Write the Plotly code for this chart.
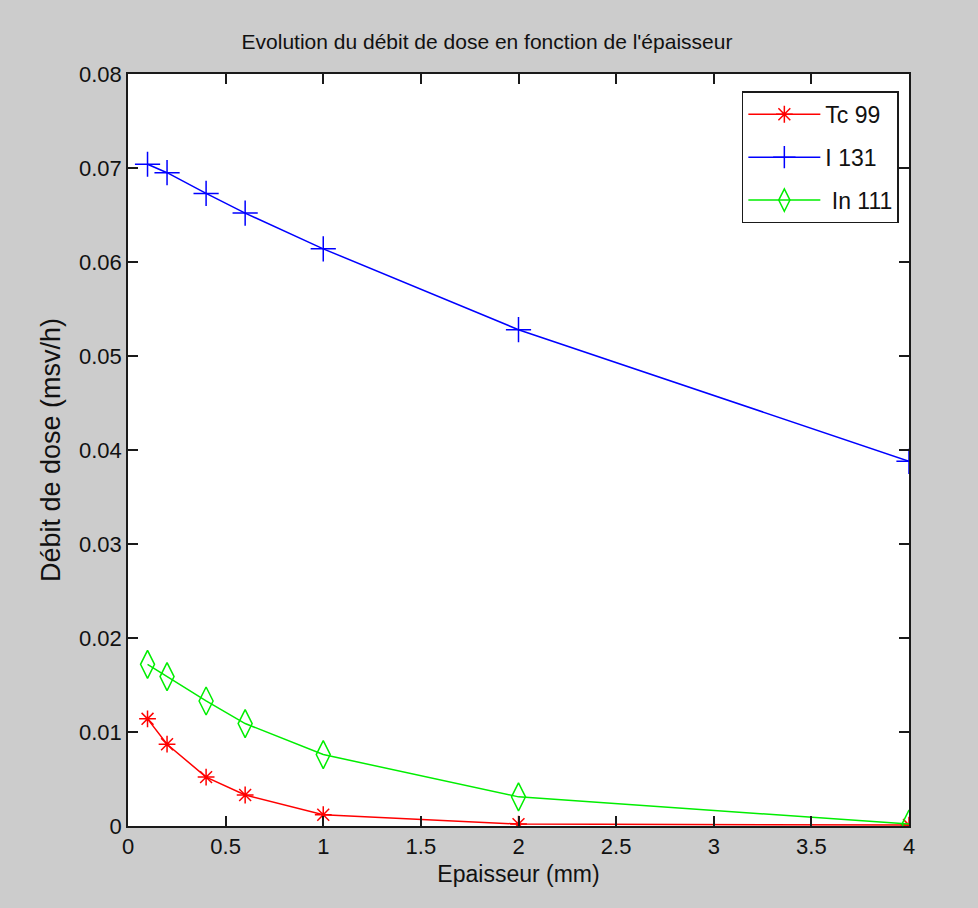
import plotly.graph_objects as go

# Data
epaisseur = [0.1, 0.2, 0.4, 0.6, 1, 2, 4]
tc99 = [0.0114, 0.0087, 0.0052, 0.0033, 0.0012, 0.0002, 0.0001]
i131 = [0.0704, 0.0695, 0.0673, 0.0652, 0.0614, 0.0528, 0.0388]
in111 = [0.0172, 0.0159, 0.0133, 0.0109, 0.0076, 0.0031, 0.0002]
names = ["Tc 99", "I 131", "\u00a0In 111"]

FONT = "Liberation Sans, Arial, sans-serif"

fig = go.Figure()
fig.add_trace(go.Scatter(
    x=epaisseur, y=tc99, name=names[0], mode="lines+markers", legendgroup="a",
    line=dict(color="#ff0000", width=1.5),
    marker=dict(symbol="asterisk-open", size=14, color="#ff0000",
                line=dict(color="#ff0000", width=1.5)),
))
fig.add_trace(go.Scatter(
    x=epaisseur, y=i131, name=names[1], mode="lines+markers", legendgroup="b",
    line=dict(color="#0000ff", width=1.5),
    marker=dict(symbol="cross-thin-open", size=18, color="#0000ff",
                line=dict(color="#0000ff", width=1.5)),
))
fig.add_trace(go.Scatter(
    x=epaisseur, y=in111, name=names[2], mode="lines+markers", legendgroup="c",
    line=dict(color="#00ee00", width=1.5),
    marker=dict(symbol="diamond-tall-open", size=20, color="#00ee00",
                line=dict(color="#00ee00", width=1.5)),
))

axis_common = dict(
    showline=True, linecolor="#1a1a1a", linewidth=1.5, mirror="ticks",
    ticks="inside", ticklen=10, tickwidth=1.5, tickcolor="#1a1a1a",
    showgrid=False, zeroline=False,
    tickfont=dict(family=FONT, size=22, color="#111111"),
)

fig.update_layout(
    width=978, height=908,
    paper_bgcolor="#cccccc", plot_bgcolor="#ffffff",
    margin=dict(l=128, r=69, t=74, b=82),
    title=dict(text="Evolution du débit de dose en fonction de l'épaisseur",
               x=487/978, xanchor="center", xref="container",
               y=1 - 42/908, yanchor="middle", yref="container",
               font=dict(family=FONT, size=21, color="#111111")),
    xaxis=dict(range=[0, 4], dtick=0.5, tick0=0,
               title=dict(text="Epaisseur (mm)", standoff=8,
                          font=dict(family=FONT, size=23, color="#111111")),
               **axis_common),
    yaxis=dict(range=[0, 0.08], dtick=0.01, tick0=0,
               title=dict(text="Débit de dose (msv/h)", standoff=11,
                          font=dict(family=FONT, size=27, color="#111111")),
               **axis_common),
    legend=dict(x=0.987, xanchor="right", y=0.977, yanchor="top",
                bgcolor="#ffffff", bordercolor="#1a1a1a", borderwidth=1.5,
                font=dict(family=FONT, size=23, color="#111111"),
                itemwidth=72, tracegroupgap=10),
    showlegend=True,
)

fig.write_html("out.html")
